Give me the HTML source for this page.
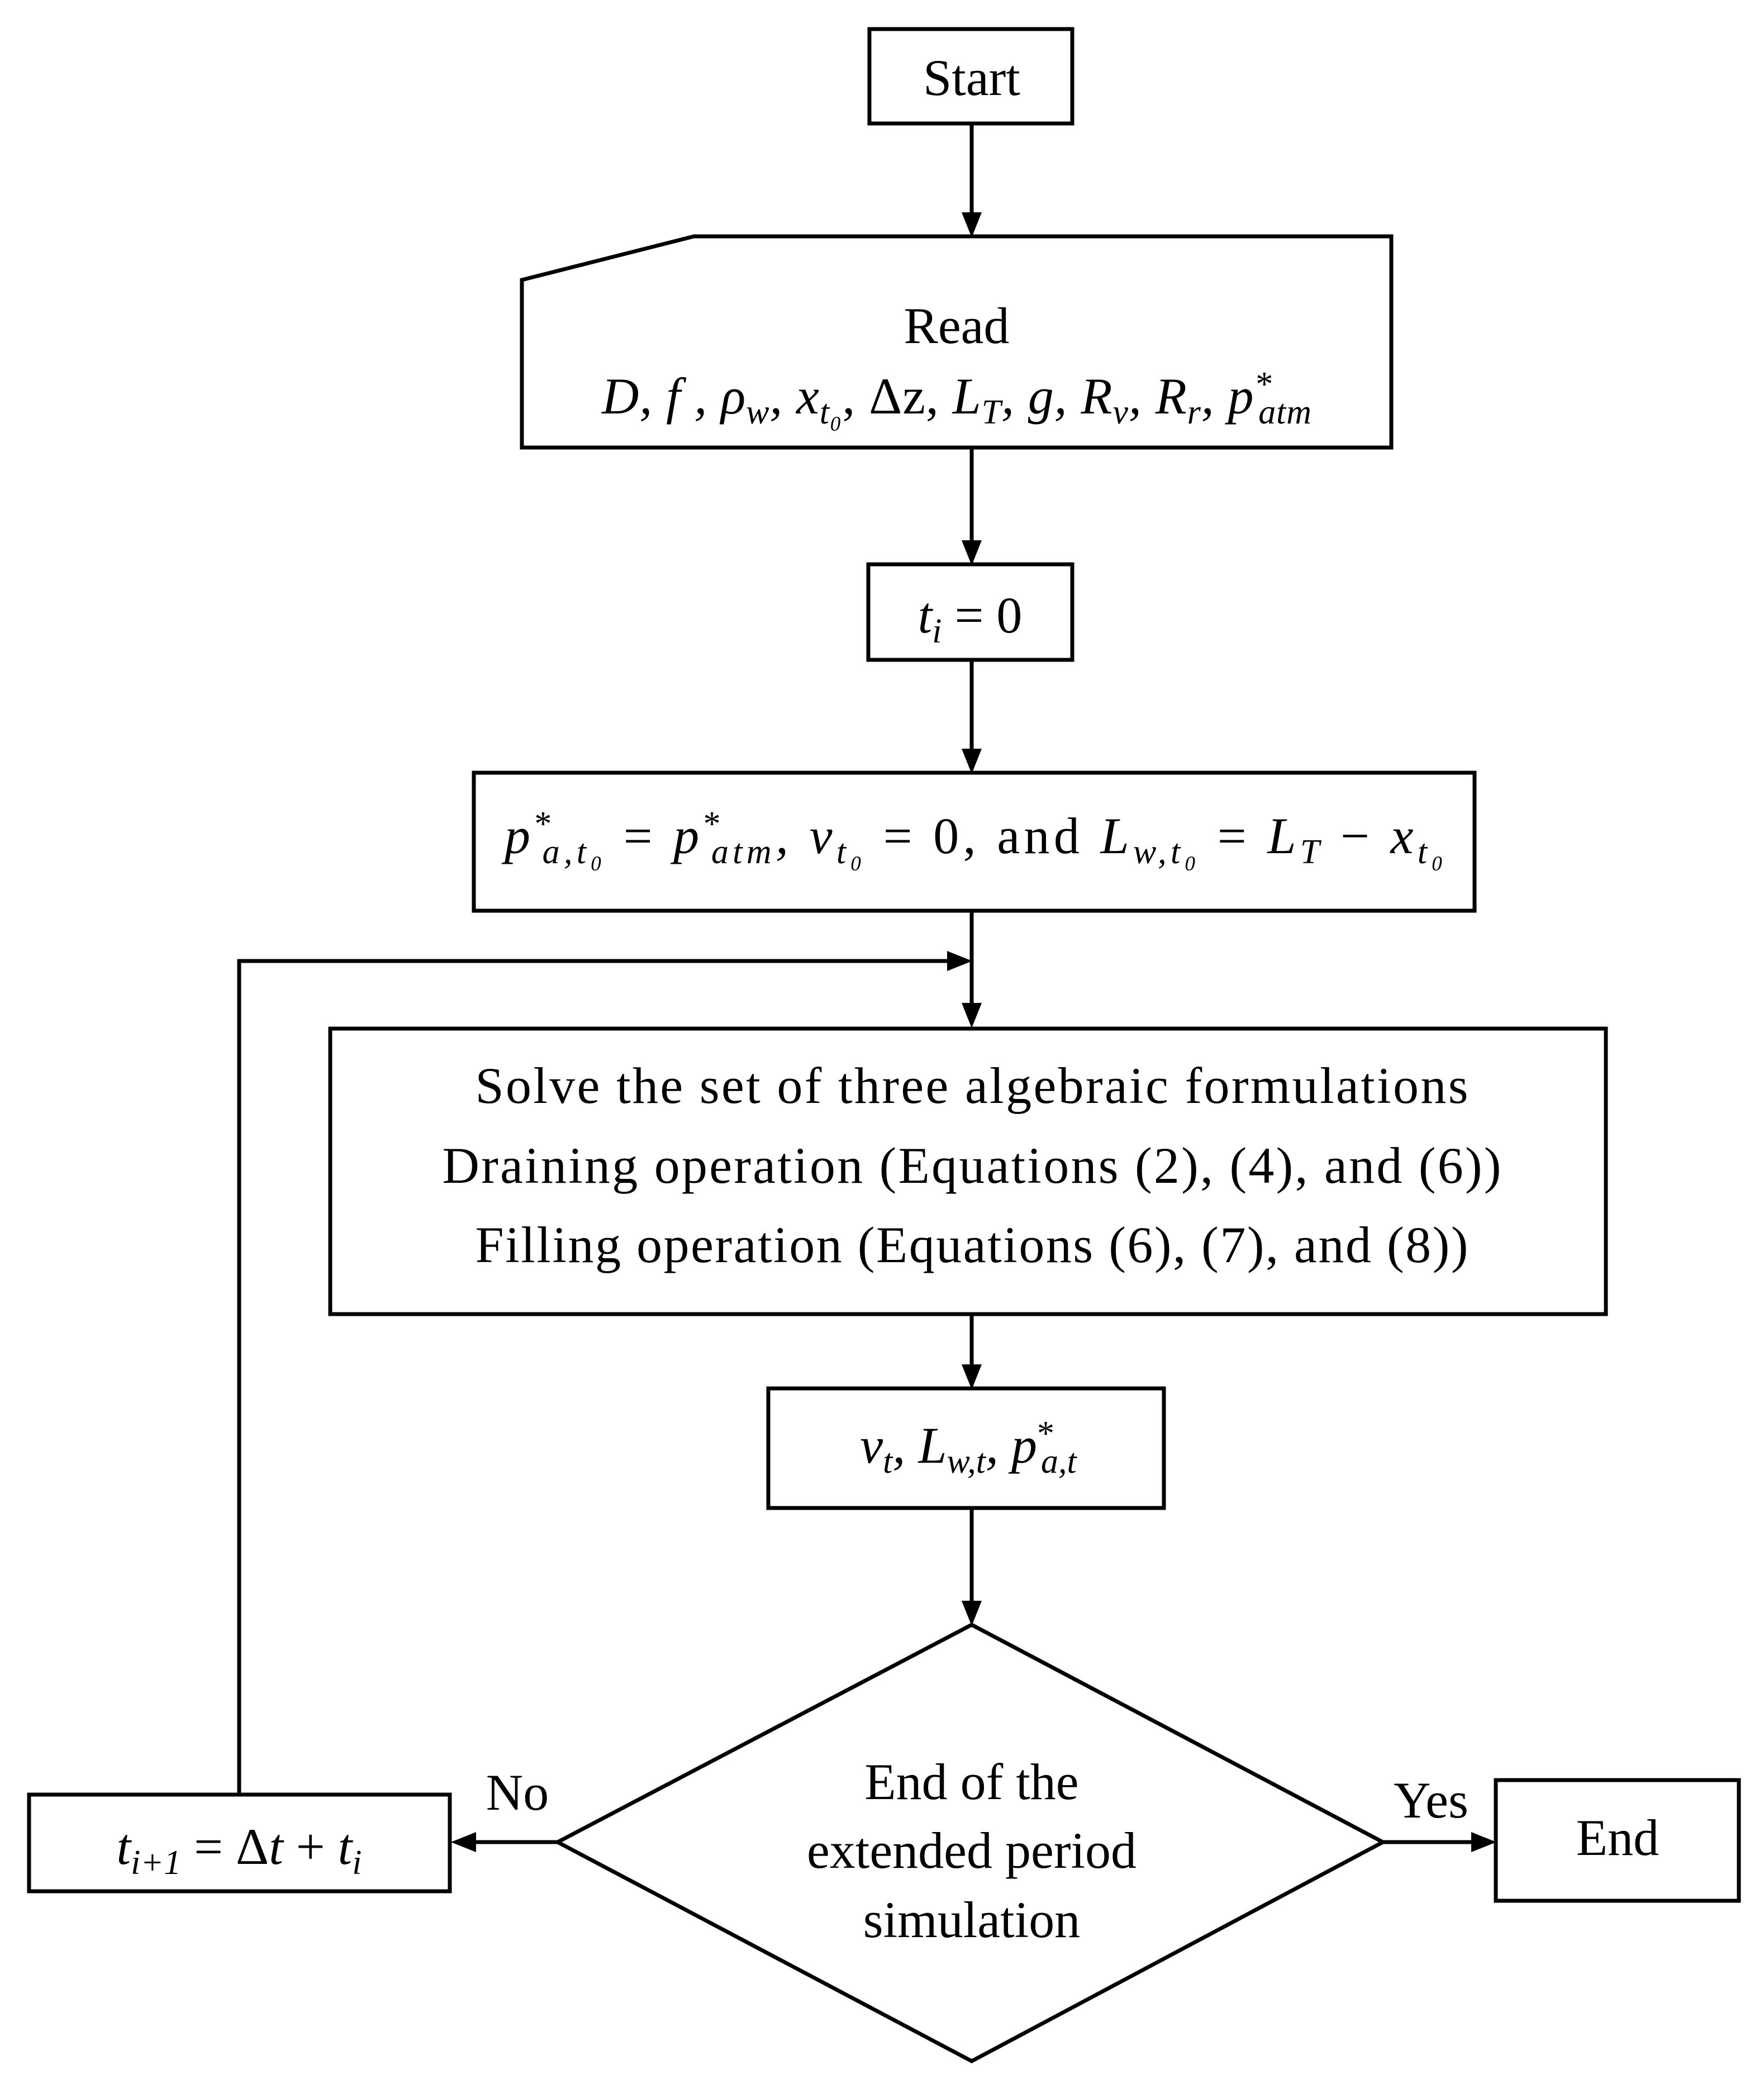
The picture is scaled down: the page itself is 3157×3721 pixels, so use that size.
<!DOCTYPE html>
<html><head><meta charset="utf-8"><style>
html,body{margin:0;padding:0;background:#fff;}
svg{display:block;}
text{font-family:"Liberation Serif",serif;font-size:92px;fill:#000;}
.m{font-style:italic;}
.s{font-size:62px;}
</style></head><body>
<svg width="3157" height="3721" viewBox="0 0 3157 3721" xmlns="http://www.w3.org/2000/svg">
<g fill="none" stroke="#000" stroke-width="7">
<rect x="1556" y="52" width="363" height="169"/>
<polygon points="934,501 1242,423 2490,423 2490,801 934,801"/>
<rect x="1554" y="1010" width="365" height="171"/>
<rect x="848" y="1383" width="1791" height="247"/>
<rect x="591" y="1841" width="2283" height="511"/>
<rect x="1375" y="2485" width="708" height="214"/>
<polygon points="1739,2908 2475,3297 1739,3689 998,3297"/>
<rect x="52" y="3212" width="753" height="173"/>
<rect x="2677" y="3186" width="435" height="216"/>
<line x1="1739" y1="221" x2="1739" y2="380"/>
<line x1="1739" y1="801" x2="1739" y2="967"/>
<line x1="1739" y1="1181" x2="1739" y2="1340"/>
<line x1="1739" y1="1630" x2="1739" y2="1795"/>
<polyline points="428,3212 428,1720 1695,1720"/>
<line x1="1739" y1="2352" x2="1739" y2="2442"/>
<line x1="1739" y1="2699" x2="1739" y2="2865"/>
<line x1="998" y1="3297" x2="852" y2="3297"/>
<line x1="2475" y1="3297" x2="2633" y2="3297"/>
</g>
<g fill="#000">
<path d="M1721,380 L1757,380 L1739,425 Z"/>
<path d="M1721,967 L1757,967 L1739,1012 Z"/>
<path d="M1721,1340 L1757,1340 L1739,1385 Z"/>
<path d="M1721,1795 L1757,1795 L1739,1840 Z"/>
<path d="M1695,1702 L1695,1738 L1740,1720 Z"/>
<path d="M1721,2442 L1757,2442 L1739,2487 Z"/>
<path d="M1721,2865 L1757,2865 L1739,2910 Z"/>
<path d="M852,3279 L852,3315 L807,3297 Z"/>
<path d="M2633,3279 L2633,3315 L2678,3297 Z"/>
</g>
<text x="1712" y="614" text-anchor="middle">Read</text>
<text x="1739" y="170" text-anchor="middle">Start</text>
<text x="1712" y="740" text-anchor="middle" class="m" textLength="1270">D, f , ρ<tspan class="s" dy="18">w</tspan><tspan dy="-18">, x</tspan><tspan class="s" dy="18">t₀</tspan><tspan dy="-18" font-style="normal">, Δz, </tspan>L<tspan class="s" dy="18">T</tspan><tspan dy="-18">, g, R</tspan><tspan class="s" dy="18">v</tspan><tspan dy="-18">, R</tspan><tspan class="s" dy="18">r</tspan><tspan dy="-18">, p</tspan><tspan class="s" dy="-32">*</tspan><tspan class="s" dx="-24" dy="50">atm</tspan></text>
<text x="1736" y="1132" text-anchor="middle"><tspan class="m">t</tspan><tspan class="s m" dy="18">i</tspan><tspan dy="-18"> = 0</tspan></text>
<text x="1743" y="1527" text-anchor="middle" textLength="1680"><tspan class="m">p</tspan><tspan class="s" dy="-32">*</tspan><tspan class="s m" dx="-24" dy="50">a,t₀</tspan><tspan dy="-18"> = </tspan><tspan class="m">p</tspan><tspan class="s" dy="-32">*</tspan><tspan class="s m" dx="-24" dy="50">atm</tspan><tspan dy="-18" class="m">, v</tspan><tspan class="s m" dy="18">t₀</tspan><tspan dy="-18"> = 0, and </tspan><tspan class="m">L</tspan><tspan class="s m" dy="18">w,t₀</tspan><tspan dy="-18"> = </tspan><tspan class="m">L</tspan><tspan class="s m" dy="18">T</tspan><tspan dy="-18"> − </tspan><tspan class="m">x</tspan><tspan class="s m" dy="18">t₀</tspan></text>
<text x="1739" y="1974" text-anchor="middle" textLength="1777">Solve the set of three algebraic formulations</text>
<text x="1739" y="2117" text-anchor="middle" textLength="1895">Draining operation (Equations (2), (4), and (6))</text>
<text x="1739" y="2259" text-anchor="middle" textLength="1777">Filling operation (Equations (6), (7), and (8))</text>
<text x="1733" y="2618" text-anchor="middle"><tspan class="m">v</tspan><tspan class="s m" dy="18">t</tspan><tspan dy="-18" class="m">, L</tspan><tspan class="s m" dy="18">w,t</tspan><tspan dy="-18" class="m">, p</tspan><tspan class="s" dy="-32">*</tspan><tspan class="s m" dx="-24" dy="50">a,t</tspan></text>
<text x="1739" y="3220" text-anchor="middle">End of the</text>
<text x="1739" y="3343" text-anchor="middle">extended period</text>
<text x="1739" y="3467" text-anchor="middle">simulation</text>
<text x="926" y="3239" text-anchor="middle">No</text>
<text x="2561" y="3253" text-anchor="middle">Yes</text>
<text x="2895" y="3320" text-anchor="middle">End</text>
<text x="428" y="3336" text-anchor="middle"><tspan class="m">t</tspan><tspan class="s m" dy="18">i+1</tspan><tspan dy="-18"> = Δ</tspan><tspan class="m">t</tspan><tspan> + </tspan><tspan class="m">t</tspan><tspan class="s m" dy="18">i</tspan></text>
</svg>
</body></html>
